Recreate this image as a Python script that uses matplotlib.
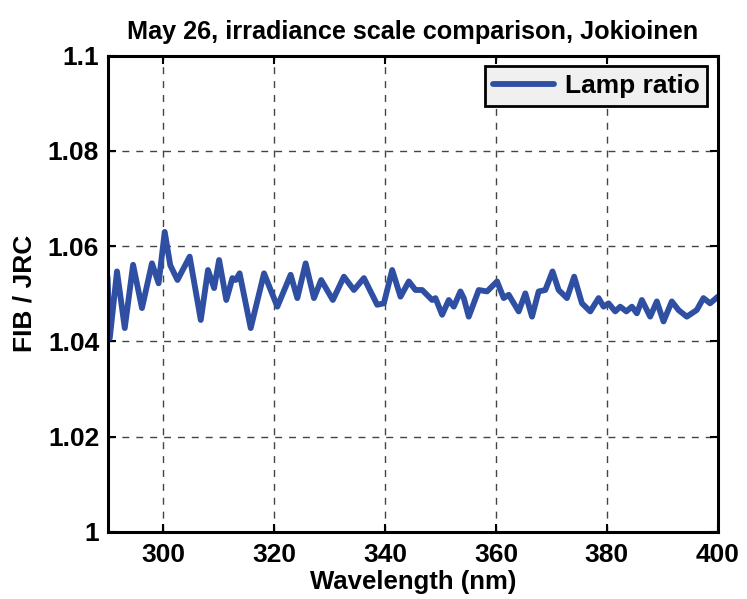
import matplotlib
matplotlib.use("Agg")
import matplotlib.pyplot as plt

wavelength = [290.0, 290.4, 291.7, 293.1, 294.6, 296.2, 298.0, 299.2, 300.3, 301.3, 302.6,
              304.8, 306.8, 308.1, 309.2, 310.1, 311.4, 312.5, 313.1, 313.8, 315.8,
              318.2, 320.6, 323.0, 324.2, 325.7, 327.2, 328.5, 330.6, 332.6, 334.4,
              336.2, 338.6, 339.8, 341.3, 342.8, 344.3, 345.5, 346.7, 348.5, 349.1,
              350.3, 351.5, 352.4, 353.6, 354.2, 355.1, 356.9, 358.4, 360.2, 361.4,
              362.3, 364.1, 365.3, 366.5, 367.7, 368.9, 370.2, 371.3, 372.8, 374.1,
              375.5, 377.0, 378.5, 379.4, 380.3, 381.5, 382.4, 383.5, 384.5, 385.4,
              386.3, 387.8, 389.0, 390.2, 391.7, 392.9, 394.4, 396.2, 397.4, 398.6,
              400.0]
lamp_ratio = [1.0535, 1.0407, 1.0547, 1.0428, 1.0561, 1.0470, 1.0564, 1.0522, 1.0630, 1.0560, 1.0529,
              1.0578, 1.0445, 1.0550, 1.0512, 1.0571, 1.0487, 1.0533, 1.0529, 1.0543, 1.0428,
              1.0543, 1.0473, 1.0540, 1.0491, 1.0564, 1.0491, 1.0529, 1.0487, 1.0536, 1.0508,
              1.0533, 1.0477, 1.0480, 1.0550, 1.0494, 1.0526, 1.0508, 1.0508, 1.0487, 1.0491,
              1.0456, 1.0487, 1.0473, 1.0505, 1.0491, 1.0452, 1.0508, 1.0505, 1.0526, 1.0491,
              1.0498, 1.0463, 1.0501, 1.0452, 1.0505, 1.0508, 1.0547, 1.0508, 1.0491, 1.0536,
              1.0480, 1.0463, 1.0491, 1.0473, 1.0480, 1.0463, 1.0473, 1.0463, 1.0473, 1.0459,
              1.0487, 1.0452, 1.0484, 1.0442, 1.0484, 1.0466, 1.0452, 1.0466, 1.0491, 1.0480,
              1.0494]
x_ticks = [300, 320, 340, 360, 380, 400]
y_ticks = [1.0, 1.02, 1.04, 1.06, 1.08, 1.1]
y_tick_labels = ["1", "1.02", "1.04", "1.06", "1.08", "1.1"]

plt.rcParams['font.family'] = ['Liberation Sans', 'DejaVu Sans']
plt.rcParams['font.weight'] = 'bold'

fig = plt.figure(figsize=(7.47, 5.99), dpi=100)
ax = fig.add_axes([0.144, 0.112, 0.817, 0.795])

ax.plot(wavelength, lamp_ratio, color='#2f4fa3', lw=4.2, label='Lamp ratio',
        solid_joinstyle='round', solid_capstyle='round')
ax.set_xlim(290, 400)
ax.set_ylim(1.0, 1.1)
ax.set_xticks(x_ticks)
ax.set_yticks(y_ticks)
ax.set_yticklabels(y_tick_labels)
ax.tick_params(direction='in', length=6, width=1.5, labelsize=19, top=True, right=True)
ax.tick_params(axis='x', pad=8)
ax.tick_params(axis='y', pad=6)
for lab in ax.get_xticklabels() + ax.get_yticklabels():
    lab.set_fontweight('bold')
ax.grid(True, color='#444444', linestyle=(0, (5, 5)), lw=1.0)
for s in ax.spines.values():
    s.set_linewidth(2.2)

ax.set_title('May 26, irradiance scale comparison, Jokioinen', fontsize=18.2,
             fontweight='bold', pad=12)
ax.set_xlabel('Wavelength (nm)', fontsize=18.5, fontweight='bold', labelpad=2)
ax.set_ylabel('FIB / JRC', fontsize=19, fontweight='bold', labelpad=8)

leg = ax.legend(loc='upper right', prop={'weight': 'bold', 'size': 19},
                frameon=True, fancybox=False, handlelength=2.3, borderpad=0.3,
                borderaxespad=0.4, handletextpad=0.4)
leg.get_frame().set_facecolor('#f0f0f0')
leg.get_frame().set_edgecolor('black')
leg.get_frame().set_linewidth(2.0)
leg.get_frame().set_alpha(1.0)

fig.savefig('out.png', dpi=100)
